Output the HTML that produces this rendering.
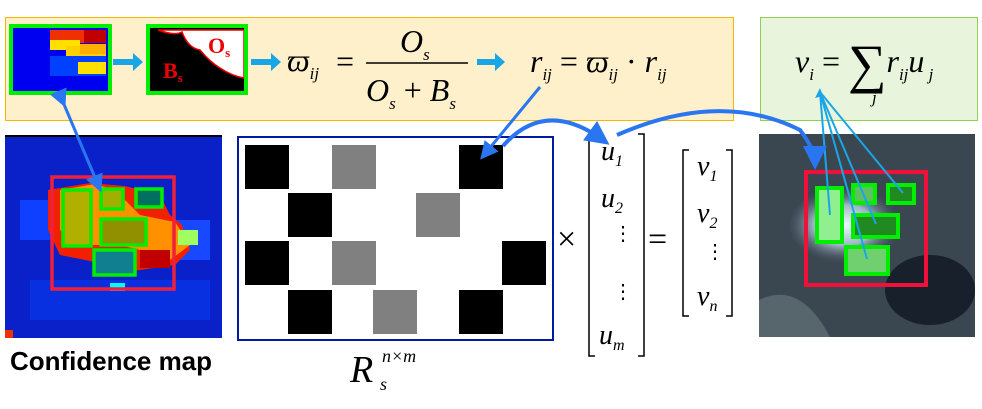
<!DOCTYPE html>
<html><head><meta charset="utf-8"><style>
body{margin:0;width:982px;height:409px;background:#fff;overflow:hidden;position:relative;font-family:"Liberation Serif",serif}
.abs{position:absolute}
</style></head><body>
<div class="abs" style="left:5px;top:17px;width:727px;height:102px;background:#fff0cc;border:1px solid #f5b800"></div>
<div class="abs" style="left:760px;top:17px;width:216px;height:102px;background:#e8f5dc;border:1px solid #8fd14f"></div>

<svg class="abs" style="left:0;top:0" width="982" height="409">
<defs>
<marker id="ah" markerWidth="6" markerHeight="6" refX="4" refY="3" orient="auto"><path d="M0,0L6,3L0,6z" fill="#2a75f0"/></marker>
<radialGradient id="glow" cx="0.45" cy="0.5" r="0.5"><stop offset="0" stop-color="#f0f8ff"/><stop offset="0.5" stop-color="#a0b8c8"/><stop offset="1" stop-color="#3a4650" stop-opacity="0"/></radialGradient>
</defs>
<g>
<rect x="11" y="26" width="99" height="67" fill="#0000f0"/>
<rect x="50" y="30" width="56" height="13" fill="#f03000"/>
<rect x="84" y="30" width="22" height="13" fill="#c00000"/>
<rect x="50" y="40" width="30" height="10" fill="#ffe000"/>
<rect x="66" y="46" width="40" height="18" fill="#ffd000"/>
<rect x="80" y="44" width="26" height="10" fill="#ffb000"/>
<rect x="50" y="56" width="56" height="20" fill="#0040ff"/>
<rect x="78" y="62" width="28" height="12" fill="#ffe000"/>
<rect x="11" y="26" width="99" height="67" fill="none" stroke="#00ee00" stroke-width="4"/>
</g>
<g>
<rect x="148" y="26" width="98" height="67" fill="#000"/>
<path d="M158,30 Q175,36 182,32 Q188,48 200,50 Q210,62 220,68 Q232,76 244,78 L244,30z" fill="#fff" stroke="#e00" stroke-width="1.5"/>
<rect x="148" y="26" width="98" height="67" fill="none" stroke="#00ee00" stroke-width="4"/>
<text x="208" y="53" font-size="22" font-weight="bold" fill="#e00">O<tspan font-size="13" dy="4">s</tspan></text>
<text x="163" y="78" font-size="22" font-weight="bold" fill="#e00">B<tspan font-size="13" dy="4">s</tspan></text>
</g>
<g fill="#1aa6e6">
<path d="M113,59h20v-6l10,9l-10,9v-6h-20z"/>
<path d="M251,59h20v-6l10,9l-10,9v-6h-20z"/>
<path d="M477,59h18v-6l10,9l-10,9v-6h-18z"/>
</g>
<g font-family="Liberation Serif" font-style="italic">
<text x="287" y="71" font-size="32">ϖ<tspan font-size="17" dy="8">ij</tspan></text>
<text x="336" y="72" font-size="32" font-style="normal">=</text>
<text x="400" y="52" font-size="32">O<tspan font-size="17" dy="8">s</tspan></text>
<line x1="366" y1="63" x2="468" y2="63" stroke="#000" stroke-width="1.5"/>
<text x="366" y="101" font-size="32">O<tspan font-size="17" dy="8">s</tspan><tspan dy="-8" font-style="normal"> + </tspan>B<tspan font-size="17" dy="8">s</tspan></text>
<text x="530" y="72" font-size="32">r<tspan font-size="17" dy="8">ij</tspan><tspan dy="-8" font-style="normal"> = </tspan>ϖ<tspan font-size="17" dy="8">ij</tspan><tspan dy="-8" font-style="normal"> · </tspan>r<tspan font-size="17" dy="8">ij</tspan></text>
<text x="795" y="72" font-size="32">v<tspan font-size="17" dy="8">i</tspan><tspan dy="-8" font-style="normal"> = </tspan><tspan font-style="normal" font-size="54" dy="10">∑</tspan><tspan dy="-10">r</tspan><tspan font-size="17" dy="8">ij</tspan><tspan dy="-8">u</tspan><tspan font-size="17" dy="8"> j</tspan></text>
<text x="872" y="103" font-size="17">j</text>
</g>
<g>
<rect x="5" y="135" width="217" height="203" fill="#0a20c8"/>
<rect x="5" y="135" width="217" height="2" fill="#000"/>
<rect x="20" y="200" width="60" height="40" fill="#1040ff"/>
<rect x="150" y="220" width="60" height="40" fill="#1848ff"/>
<rect x="30" y="280" width="180" height="40" fill="#0830e0"/>
<path d="M48,190 L90,183 L125,186 L160,195 L170,215 L182,225 L190,250 L175,265 L140,270 L115,275 L95,262 L60,255 L48,230z" fill="#f02000"/>
<path d="M60,190 L95,184 L115,190 L140,215 L175,222 L190,245 L170,260 L150,265 L140,250 L120,245 L80,245 L60,230z" fill="#ff9000"/>
<rect x="178" y="230" width="20" height="15" fill="#a0ff60"/>
<rect x="140" y="250" width="30" height="18" fill="#c00000"/>
<rect x="110" y="283" width="15" height="8" fill="#00ffff"/>
<rect x="64" y="190" width="25" height="55" fill="#b0b000"/>
<rect x="101" y="190" width="22" height="18" fill="#a0b000"/>
<rect x="138" y="190" width="25" height="17" fill="#007060"/>
<rect x="101" y="220" width="44" height="25" fill="#909000"/>
<rect x="94" y="251" width="40" height="25" fill="#108090"/>
<rect x="52" y="177" width="122" height="112" fill="none" stroke="#f0203a" stroke-width="3.5"/>
<g fill="none" stroke="#00ee00" stroke-width="3.5">
<rect x="63" y="190" width="28" height="56"/><rect x="101" y="189" width="22" height="20"/><rect x="136" y="189" width="26" height="18"/><rect x="101" y="219" width="45" height="26"/><rect x="94" y="250" width="41" height="25"/>
</g>
<rect x="5" y="330" width="8" height="8" fill="#f03000"/>
</g>
<text x="10" y="370" font-family="Liberation Sans" font-weight="bold" font-size="26" textLength="202">Confidence map</text>
<g>
<rect x="238" y="137" width="315" height="203" fill="#fff" stroke="#001aa0" stroke-width="2"/>
<g fill="#000"><rect x="245" y="145" width="44" height="44"/><rect x="459" y="145" width="44" height="44"/><rect x="288" y="193" width="44" height="44"/><rect x="245" y="241" width="44" height="44"/><rect x="502" y="241" width="44" height="44"/><rect x="288" y="290" width="44" height="44"/><rect x="459" y="290" width="44" height="44"/></g>
<g fill="#808080"><rect x="332" y="145" width="44" height="44"/><rect x="416" y="193" width="44" height="44"/><rect x="332" y="241" width="44" height="44"/><rect x="373" y="290" width="44" height="44"/></g>
</g>
<g font-style="italic">
<text x="350" y="382" font-size="38">R</text>
<text x="382" y="362" font-size="18">n×m</text>
<text x="380" y="390" font-size="18">s</text>
</g>
<text x="557" y="250" font-size="34">×</text>
<g stroke="#000" stroke-width="1.5" fill="none">
<path d="M595,134h-6v222h6"/><path d="M638,134h6v222h-6"/>
<path d="M689,150h-6v166h6"/><path d="M726,150h6v166h-6"/>
</g>
<g font-style="italic" font-size="28">
<text x="601" y="160">u<tspan font-size="16" dy="6">1</tspan></text>
<text x="601" y="207">u<tspan font-size="16" dy="6">2</tspan></text>
<text x="613" y="240" font-style="normal" font-size="20">⋮</text>
<text x="613" y="298" font-style="normal" font-size="20">⋮</text>
<text x="599" y="344">u<tspan font-size="16" dy="6">m</tspan></text>
<text x="697" y="175">v<tspan font-size="16" dy="6">1</tspan></text>
<text x="697" y="222">v<tspan font-size="16" dy="6">2</tspan></text>
<text x="705" y="258" font-style="normal" font-size="20">⋮</text>
<text x="697" y="305">v<tspan font-size="16" dy="6">n</tspan></text>
</g>
<text x="648" y="250" font-size="34">=</text>
<g>
<rect x="759" y="134" width="216" height="203" fill="#3a4650"/>
<ellipse cx="930" cy="290" rx="45" ry="35" fill="#18202c"/>
<ellipse cx="850" cy="225" rx="60" ry="40" fill="url(#glow)"/>
<path d="M759,300 Q800,280 830,337 L759,337z" fill="#6a7a80" opacity="0.6"/>
<rect x="806" y="172" width="120" height="113" fill="none" stroke="#f0103a" stroke-width="4"/>
<g stroke="#00ee00" stroke-width="4"><rect x="817" y="188" width="25" height="54" fill="#90f090"/><rect x="853" y="185" width="22" height="18" fill="#60c060"/><rect x="888" y="185" width="26" height="18" fill="#208a20"/><rect x="853" y="215" width="45" height="22" fill="#208a20"/><rect x="846" y="247" width="42" height="27" fill="#70d070"/></g>
<g stroke="#1aa6e6" stroke-width="2">
<line x1="820" y1="92" x2="830" y2="215"/><line x1="820" y1="92" x2="867" y2="259"/><line x1="820" y1="92" x2="876" y2="224"/><line x1="820" y1="92" x2="903" y2="193"/>
</g>
<path d="M820,88l-5,10l8,-2z" fill="#1aa6e6"/>
</g>
<g fill="none" stroke="#2a75f0" stroke-width="4">
<line x1="63" y1="102" x2="99" y2="187" marker-end="url(#ah)" marker-start="url(#ah)" stroke-width="3"/>
<line x1="540" y1="87" x2="484" y2="155" marker-end="url(#ah)" stroke-width="3"/>
<path d="M503,146 Q545,98 603,140" marker-end="url(#ah)"/>
<path d="M617,135 Q720,90 800,130 Q815,150 815,162" marker-end="url(#ah)"/>
</g>
</svg>
</body></html>
